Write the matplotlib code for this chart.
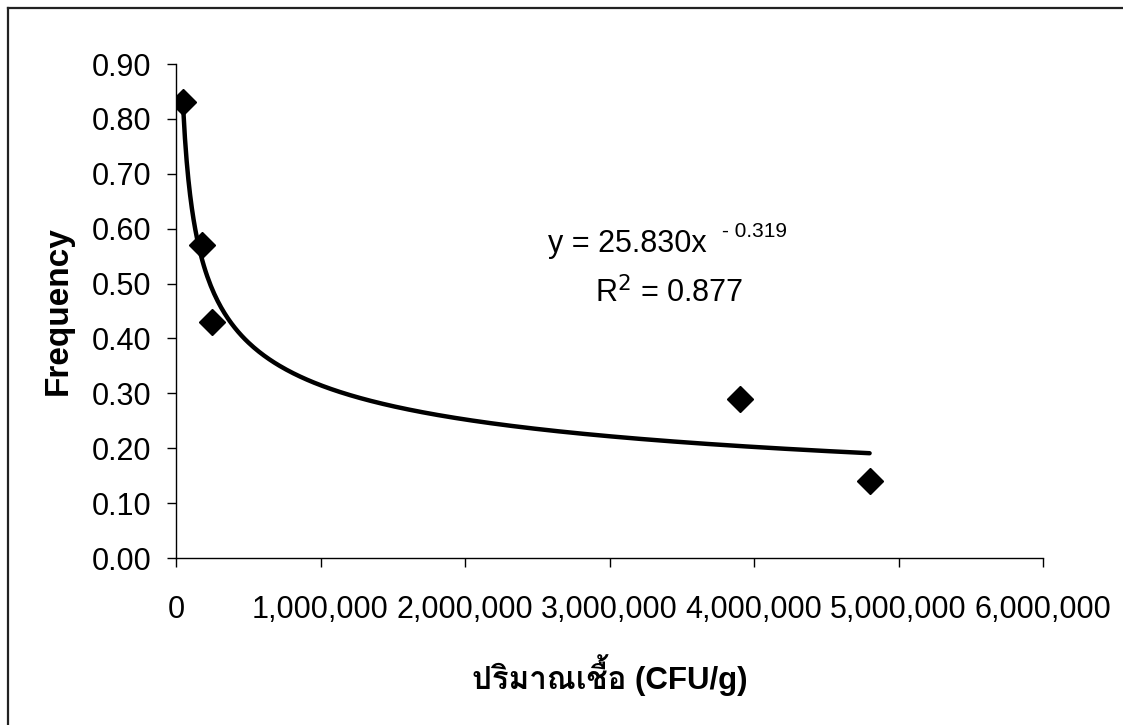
import numpy as np
import matplotlib
matplotlib.use("Agg")
import matplotlib.pyplot as plt
from matplotlib import font_manager
from matplotlib.ticker import FuncFormatter, MultipleLocator
from matplotlib.ft2font import FT2Font

# ---- data ----
cfu = [50000, 180000, 250000, 3900000, 4800000]
frequency = [0.83, 0.57, 0.43, 0.29, 0.14]
fit_a = 25.830
fit_b = -0.319
r_squared = 0.877
x_label = "ปริมาณเชื้อ (CFU/g)"
y_label = "Frequency"

# ---- find a font with Thai glyphs ----
thai_family = None
for f in font_manager.fontManager.ttflist:
    try:
        ft = FT2Font(f.fname)
        if ft.get_char_index(ord("ป")) and ft.get_char_index(ord("ช")):
            thai_family = f.name
            break
    except Exception:
        pass

base = "Liberation Sans"
fams = [base] + ([thai_family] if thai_family else []) + ["DejaVu Sans"]
plt.rcParams["font.family"] = fams

fig = plt.figure(figsize=(11.23, 7.25), dpi=100)
ax = fig.add_axes([176/1123, 1-558/725, (1043-176)/1123, (558-64)/725])

xs = np.linspace(min(cfu), max(cfu), 400)
ax.plot(xs, fit_a * xs ** fit_b, color="black", lw=3.2, solid_capstyle="round", zorder=2)
ax.plot(cfu, frequency, linestyle="none", marker="D", ms=13.5, color="black", zorder=3)

ax.set_xlim(0, 6000000)
ax.set_ylim(0, 0.9)
ax.xaxis.set_major_locator(MultipleLocator(1000000))
ax.yaxis.set_major_locator(MultipleLocator(0.1))
ax.xaxis.set_major_formatter(FuncFormatter(lambda v, p: f"{int(round(v)):,}"))
ax.yaxis.set_major_formatter(FuncFormatter(lambda v, p: f"{v:.2f}"))
for s in ("top", "right"):
    ax.spines[s].set_visible(False)
for s in ("left", "bottom"):
    ax.spines[s].set_linewidth(1.0)
    ax.spines[s].set_color("black")
ax.tick_params(axis="both", direction="out", length=6.5, width=1.0, color="black",
               labelsize=22, labelcolor="black")
ax.tick_params(axis="x", pad=20)
ax.tick_params(axis="y", pad=11)

ax.set_ylabel(y_label, fontsize=24, fontweight="bold", labelpad=13)
ax.set_xlabel(x_label, fontsize=22.5, fontweight="bold", labelpad=21)

eq = "y = %.3fx" % fit_a
fig.text(548/1123, 1-252/725, eq, fontsize=22, ha="left", va="baseline")
fig.text(722/1123, 1-237/725, "- %.3f" % abs(fit_b), fontsize=15, ha="left", va="baseline")
fig.text(595/1123, 1-302/725, r"R$^{2}$ = %.3f" % r_squared, fontsize=22, ha="left", va="baseline")

# outer frame (top and left edges visible)
fig.add_artist(plt.Line2D([8/1123, 1], [1-8/725, 1-8/725], color="#222222", lw=1.6))
fig.add_artist(plt.Line2D([8/1123, 8/1123], [0, 1-8/725], color="#222222", lw=1.6))

fig.savefig("out.png", dpi=100)
